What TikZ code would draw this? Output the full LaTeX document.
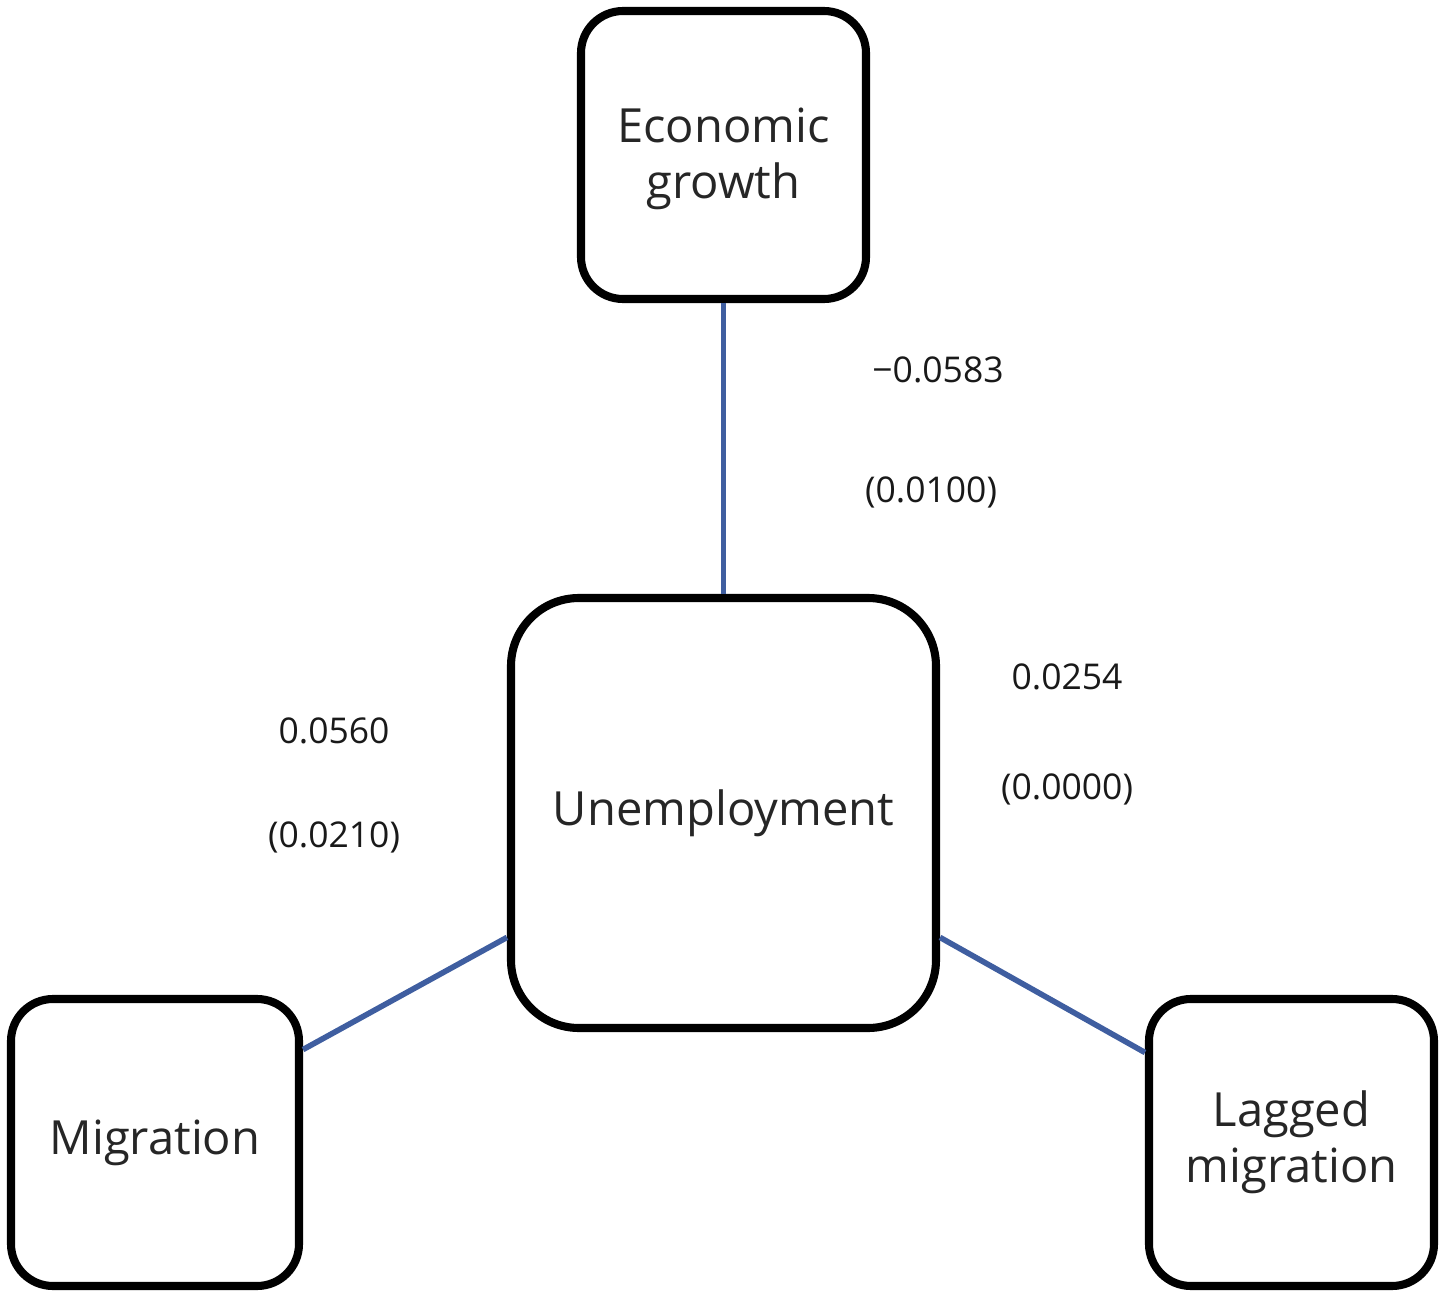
\documentclass[tikz,border=0pt]{standalone}
\usepackage{fontspec}
\setmainfont{Open Sans}
\usetikzlibrary{calc}
\definecolor{linkblue}{RGB}{63,94,160}
\tikzset{
  box/.style={draw=black, line width=2.3pt, fill=white, inner sep=0pt, align=center,
    font=\fontsize{13.4pt}{16pt}\selectfont, text=black!85},
  smallbox/.style={box, rounded corners=0.42cm},
  bigbox/.style={box, rounded corners=0.68cm},
  link/.style={draw=linkblue, line width=1.6pt},
  coef/.style={font=\fontsize{10.1pt}{12pt}\selectfont, text=black!90, inner sep=0pt}
}
\begin{document}
\begin{tikzpicture}
\useasboundingbox (0,0) rectangle (14.54,-12.96);
\node[smallbox, minimum width=2.85cm, minimum height=2.88cm, text depth=0.03cm] (EG) at (7.235,-1.55) {Economic\\growth};
\node[bigbox, minimum width=4.25cm, minimum height=4.30cm] (U) at (7.235,-8.13) {Unemployment};
\node[smallbox, minimum width=2.88cm, minimum height=2.87cm] (M) at (1.55,-11.425) {Migration};
\node[smallbox, minimum width=2.85cm, minimum height=2.87cm] (L) at (12.915,-11.425) {Lagged\\migration};

\coordinate (Uw) at ($(U.south west)!0.216!(U.north west)$);
\coordinate (Ue) at ($(U.south east)!0.216!(U.north east)$);
\coordinate (Me) at ($(M.south east)!0.815!(M.north east)$);
\coordinate (Lw) at ($(L.south west)!0.805!(L.north west)$);

\draw[link] (EG.south) -- (U.north);
\draw[link] (Uw) -- (Me);
\draw[link] (Ue) -- (Lw);

\node[coef] (c1) at (9.38,-3.70) {−0.0583};
\node[coef] (s1) at (9.31,-4.92) {(0.0100)};
\node[coef] (c2) at (3.34,-7.31) {0.0560};
\node[coef] (s2) at (3.34,-8.37) {(0.0210)};
\node[coef] (c3) at (10.67,-6.77) {0.0254};
\node[coef] (s3) at (10.67,-7.89) {(0.0000)};
\end{tikzpicture}
\end{document}
